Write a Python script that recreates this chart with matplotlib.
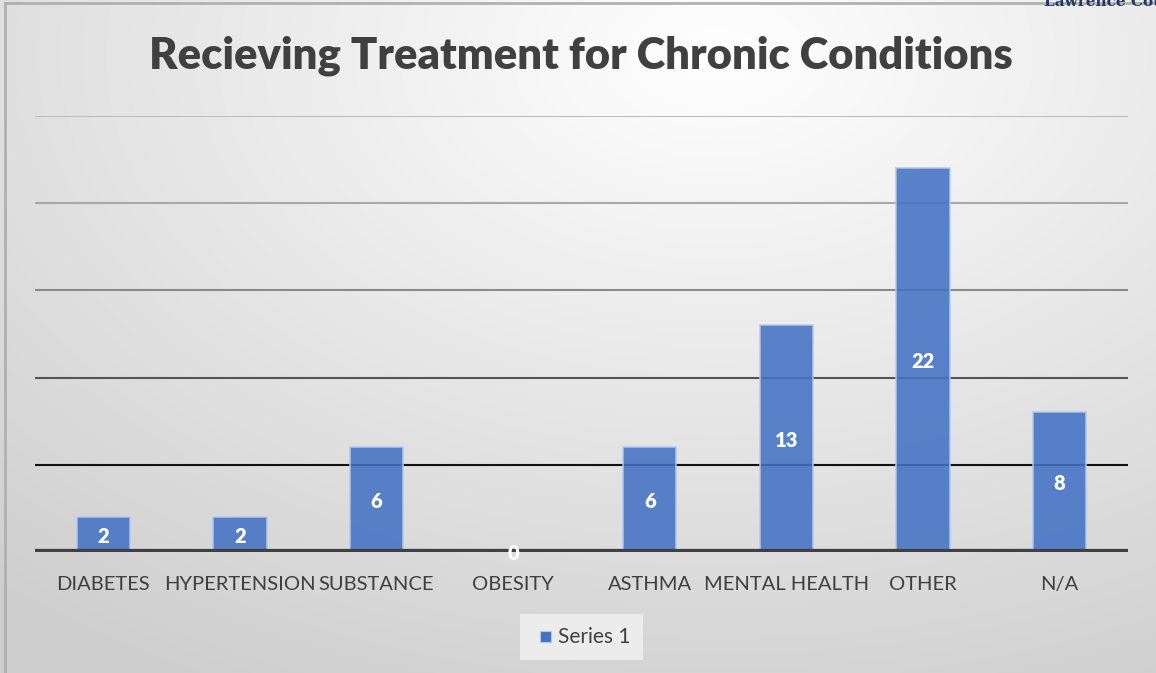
import numpy as np
import matplotlib
matplotlib.use('Agg')
import matplotlib.pyplot as plt
from matplotlib.patches import Rectangle

# data
categories = ['DIABETES', 'HYPERTENSION', 'SUBSTANCE', 'OBESITY',
              'ASTHMA', 'MENTAL HEALTH', 'OTHER', 'N/A']
values = [2, 2, 6, 0, 6, 13, 22, 8]
grid_levels = [5, 10, 15, 20, 25]
grid_colors = ['#111111', '#555555', '#8a8a8a', '#a8a8a8', '#bdbdbd']

FONT = 'Lato'

fig = plt.figure(figsize=(11.56, 6.73), dpi=100)

# radial gradient background
bg = fig.add_axes([0, 0, 1, 1], zorder=-10)
xx, yy = np.meshgrid(np.linspace(0, 1, 400), np.linspace(0, 1, 240))
d = np.sqrt(((xx - 0.62) * 1.0) ** 2 + ((yy - 0.92) * 0.9) ** 2)
shade = 1.0 - 0.19 * np.clip(d / 0.95, 0, 1)
bg.imshow(np.dstack([shade] * 3), extent=[0, 1, 0, 1], origin='lower',
          aspect='auto', interpolation='bilinear')
bg.set_xlim(0, 1)
bg.set_ylim(0, 1)
bg.axis('off')
# border lines left / top
bg.plot([0.0045, 0.0045], [0, 0.996], color='#b0b0b0', lw=2)
bg.plot([0.0045, 1], [0.996, 0.996], color='#b0b0b0', lw=2)

ax = fig.add_axes([0.0303, 0.1798, 0.9455, 0.6478])
ax.set_facecolor('none')
x = np.arange(len(categories))
for lvl, c in zip(grid_levels, grid_colors):
    ax.axhline(lvl, color=c, lw=1.5, zorder=1)
bars = ax.bar(x, values, width=0.39, color='#4472c4', alpha=0.88,
              edgecolor='#b4c8ea', linewidth=1.2, zorder=2)
ax.axhline(0, color='#404040', lw=4.5, zorder=3)

for xi, v in zip(x, values):
    ax.text(xi, v / 2, str(v), ha='center', va='center_baseline',
            color='white', fontsize=14.5, fontweight='heavy', family=FONT,
            zorder=4)

ax.set_xlim(-0.5, len(categories) - 0.5)
ax.set_ylim(0, 25)
ax.set_xticks(x)
ax.set_xticklabels(categories, fontsize=14.5, color='#404040', family=FONT)
ax.tick_params(axis='x', length=0, pad=17)
ax.set_yticks([])
for s in ax.spines.values():
    s.set_visible(False)

fig.text(0.5025, 0.917, 'Recieving Treatment for Chronic Conditions',
         ha='center', va='center', fontsize=31.3, fontweight='heavy',
         color='#404040', family=FONT)

# legend
leg_bg = Rectangle((0.45, 0.019), 0.106, 0.068, transform=fig.transFigure,
                   facecolor='#ececec', edgecolor='none', zorder=-5)
fig.patches.append(leg_bg)
fig.patches.append(Rectangle((0.4672, 0.046), 0.0095, 0.017,
                             transform=fig.transFigure, facecolor='#4472c4',
                             edgecolor='#b4c8ea', lw=0.8))
fig.text(0.4825, 0.054, 'Series 1', ha='left', va='center', fontsize=15,
         color='#404040', family=FONT)

# header text clipped at the top right corner, as in the source image
fig.text(0.903, 0.997, 'Lawrence County Health', ha='left', va='center',
         fontsize=11, color='#1f3864', family='DejaVu Serif',
         fontweight='bold')

fig.savefig('out.png', dpi=100)
